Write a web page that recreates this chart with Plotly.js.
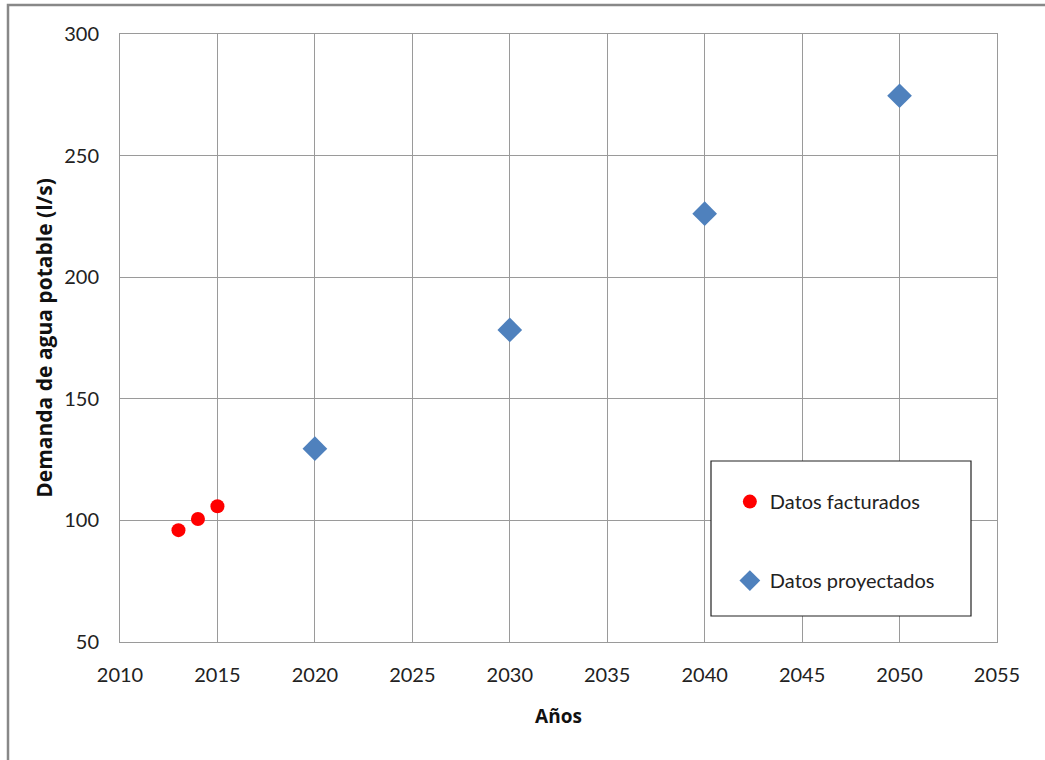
<!DOCTYPE html>
<html>
<head>
<meta charset="utf-8">
<script src="https://cdn.plot.ly/plotly-3.0.1.min.js"></script>
<style>html,body{margin:0;padding:0;background:#fff;}#chart{width:1045px;height:760px;}</style>
</head>
<body>
<div id="chart"></div>
<script>
const yearsFacturados = [2013, 2014, 2015];
const demandaFacturados = [96, 100.6, 105.8];
const yearsProyectados = [2020, 2030, 2040, 2050];
const demandaProyectados = [129.5, 178.3, 226.1, 274.6];
const xTicks = [2010, 2015, 2020, 2025, 2030, 2035, 2040, 2045, 2050, 2055];
const yTicks = [50, 100, 150, 200, 250, 300];

const font = 'Lato, "Open Sans", sans-serif';
const titleFont = '"Open Sans", Lato, sans-serif';

const traces = [
  {x: yearsFacturados, y: demandaFacturados, type: 'scatter', mode: 'markers', name: 'Datos facturados',
   legendgroup: 'a',
   marker: {symbol: 'circle', size: 14, color: '#FF0000'}},
  {x: yearsProyectados, y: demandaProyectados, type: 'scatter', mode: 'markers', name: 'Datos proyectados',
   legendgroup: 'b',
   marker: {symbol: 'diamond', size: 19, color: '#4F81BD'}}
];

const layout = {
  width: 1045, height: 760,
  margin: {l: 120, r: 48, t: 34, b: 118},
  paper_bgcolor: '#fff', plot_bgcolor: '#fff',
  font: {family: font, size: 20, color: '#222'},
  showlegend: true,
  legend: {x: 0.6954, y: 0.263, xanchor: 'left', yanchor: 'top',
           bgcolor: 'rgba(0,0,0,0)', borderwidth: 0,
           traceorder: 'grouped', tracegroupgap: 50,
           font: {family: font, size: 20, color: '#222'}},
  xaxis: {range: [2010, 2055], tickvals: xTicks, ticktext: xTicks.map(String),
          showgrid: true, gridcolor: '#9a9a9a', gridwidth: 1,
          showline: true, linecolor: '#9a9a9a', linewidth: 1, mirror: true,
          zeroline: false, ticks: '', ticklen: 0, ticklabelstandoff: 15,
          tickfont: {family: font, size: 20, color: '#222'},
          title: {text: '<b>Años</b>', font: {family: titleFont, size: 19, color: '#111'}, standoff: 24}},
  yaxis: {range: [50, 300], tickvals: yTicks, ticktext: yTicks.map(String),
          showgrid: true, gridcolor: '#9a9a9a', gridwidth: 1,
          showline: true, linecolor: '#9a9a9a', linewidth: 1, mirror: true,
          zeroline: false, ticks: '', ticklen: 0, ticklabelstandoff: 16,
          tickfont: {family: font, size: 20, color: '#222'},
          title: {text: '<b>Demanda de agua potable (l/s)</b>', font: {family: titleFont, size: 21, color: '#111'}, standoff: 5}},
  shapes: [
    {type: 'rect', xref: 'paper', yref: 'paper', x0: (711-120)/877, x1: (971-120)/877,
     y0: (642-616)/608, y1: (642-461)/608, line: {color: '#222', width: 1.2}, fillcolor: '#fff', layer: 'above'},
    {type: 'rect', xref: 'paper', yref: 'paper', x0: (8-120)/877, x1: (1060-120)/877,
     y0: (642-780)/608, y1: (642-5)/608, line: {color: '#888', width: 2.5}, fillcolor: 'rgba(0,0,0,0)', layer: 'below'}
  ]
};

Plotly.newPlot('chart', traces, layout, {displayModeBar: false, staticPlot: true});
</script>
</body>
</html>
